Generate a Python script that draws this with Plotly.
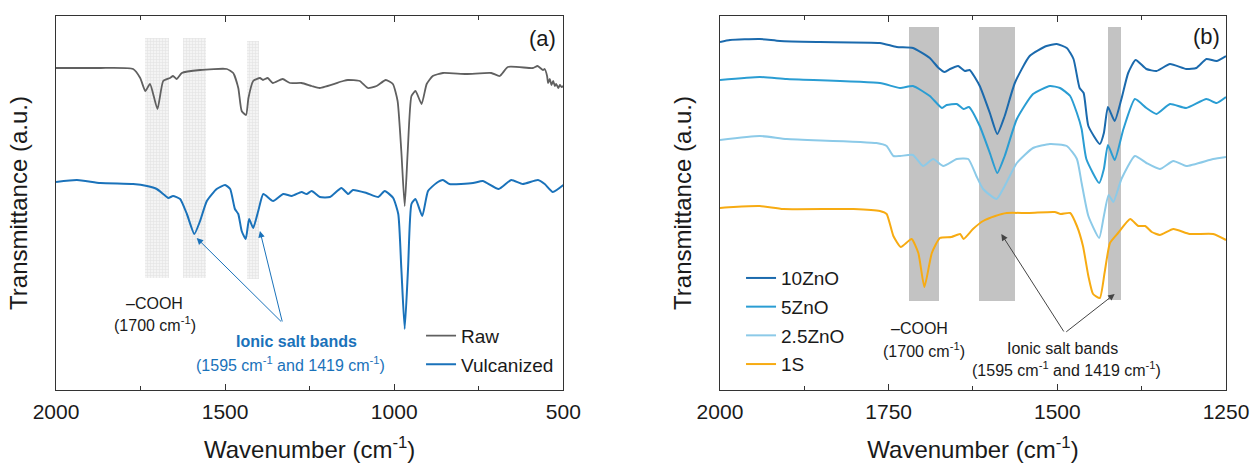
import plotly.graph_objects as go

# ---------------- Panel (a) data ----------------
raw_wn = [2000, 1938, 1870, 1772, 1751, 1736, 1722, 1700, 1683, 1663, 1654, 1643, 1628, 1574, 1495,
          1476, 1461, 1451, 1438, 1431, 1417, 1397, 1388, 1374, 1359, 1330, 1308, 1274, 1244, 1220,
          1151, 1137, 1102, 1078, 1052, 1025, 1004, 990, 979, 969, 960, 949, 937, 919, 904, 886,
          856, 787, 713, 688, 664, 590, 576, 560, 555, 548, 545, 540, 535, 530, 525, 521, 515, 510, 505, 500]
raw_t = [322, 322, 322, 321, 312, 299, 306, 281, 309, 312, 314, 311, 317, 320, 321,
         317, 302, 279, 275, 292, 309, 312, 310, 312, 307, 311, 307, 307, 304, 302,
         309, 310, 309, 302, 304, 310, 306, 289, 239, 184, 239, 294, 299, 286, 306, 314,
         317, 316, 317, 314, 323, 322, 324, 320, 321, 314, 307, 311, 305, 309, 304, 306, 302, 305, 303, 304]

vul_wn = [2000, 1938, 1869, 1772, 1731, 1702, 1683, 1668, 1654, 1633, 1613, 1591, 1574, 1554, 1525,
          1500, 1485, 1471, 1461, 1451, 1439, 1429, 1417, 1402, 1387, 1358, 1328, 1303, 1274, 1259,
          1244, 1220, 1190, 1156, 1136, 1122, 1082, 1047, 1028, 1003, 988, 979, 969, 959, 949, 937,
          917, 900, 875, 856, 837, 767, 738, 691, 654, 620, 575, 555, 531, 500]
vul_t = [208, 210, 207, 206, 204, 201, 196, 192, 194, 191, 176, 156, 169, 189, 201,
         205, 201, 181, 176, 159, 151, 171, 162, 179, 196, 189, 196, 194, 198, 196,
         199, 193, 193, 202, 196, 200, 197, 193, 199, 192, 176, 122, 61, 122, 186, 191,
         174, 199, 207, 210, 206, 207, 209, 201, 210, 206, 210, 206, 198, 205]

# shaded bands in (a): (high, low) wavenumber and vertical extent
bands_a_hi = [1736, 1625, 1436]
bands_a_lo = [1665, 1556, 1400]
bands_a_bottom = [112, 112, 111]
bands_a_top = [352, 352, 349]

# ---------------- Panel (b) data ----------------
zn10_wn = [2000, 1985, 1941, 1911, 1852, 1763, 1738, 1714, 1689, 1676, 1667, 1659, 1647, 1637, 1630,
           1615, 1600, 1589, 1578, 1563, 1541, 1516, 1501, 1486, 1476, 1467, 1461, 1454, 1437, 1431,
           1425, 1415, 1405, 1395, 1384, 1368, 1353, 1333, 1309, 1294, 1279, 1264, 1250]
zn10_t = [348, 350, 351, 349, 348, 347, 343, 342, 332, 322, 318, 321, 324, 319, 320,
          304, 277, 256, 274, 307, 334, 344, 346, 342, 331, 302, 297, 264, 246, 257,
          283, 269, 291, 317, 330, 321, 319, 326, 321, 322, 331, 329, 334]

zn5_wn = [2000, 1941, 1901, 1763, 1733, 1714, 1689, 1671, 1664, 1649, 1639, 1631, 1615, 1600, 1589,
          1578, 1560, 1536, 1511, 1496, 1481, 1471, 1464, 1457, 1438, 1431, 1425, 1415, 1402, 1385,
          1368, 1353, 1333, 1309, 1279, 1264, 1250]
zn5_t = [310, 313, 311, 307, 302, 304, 294, 282, 285, 286, 281, 283, 264, 237, 217,
         234, 271, 296, 304, 302, 294, 277, 261, 231, 207, 221, 245, 230, 261, 291,
         282, 276, 286, 282, 291, 287, 293]

zn25_wn = [2000, 1941, 1901, 1768, 1753, 1743, 1733, 1714, 1699, 1684, 1669, 1649, 1632, 1620, 1610,
           1590, 1578, 1560, 1536, 1511, 1486, 1471, 1464, 1454, 1438, 1431, 1424, 1417, 1405, 1385,
           1368, 1348, 1328, 1309, 1269, 1250]
zn25_t = [250, 254, 251, 247, 244, 234, 234, 235, 224, 231, 224, 231, 231, 214, 201,
          191, 204, 227, 242, 246, 244, 231, 207, 174, 152, 174, 195, 188, 211, 234,
          227, 221, 229, 224, 231, 233]

s1_wn = [2000, 1980, 1941, 1906, 1802, 1763, 1753, 1743, 1732, 1716, 1706, 1697, 1686, 1674, 1657,
         1644, 1639, 1625, 1610, 1592, 1575, 1541, 1504, 1495, 1481, 1471, 1462, 1454, 1447, 1437,
         1430, 1422, 1410, 1392, 1380, 1370, 1360, 1348, 1328, 1304, 1269, 1250]
s1_t = [182, 183, 184, 181, 181, 179, 176, 154, 143, 151, 137, 103, 137, 152, 153,
        156, 151, 161, 169, 174, 177, 177, 178, 176, 177, 164, 144, 114, 96, 92,
        117, 147, 157, 171, 164, 164, 158, 155, 161, 156, 156, 150]

bands_b_hi = [1720, 1616, 1425]
bands_b_lo = [1676, 1563, 1406]
bands_b_bottom = [89, 89, 90]
bands_b_top = [363, 363, 363]

x_ticks_a = [2000, 1500, 1000, 500]
x_minor_a = [1750, 1250, 750]
x_ticks_b = [2000, 1750, 1500, 1250]
x_minor_b = [1875, 1625, 1375]

FONT = "Arial, Liberation Sans, Helvetica, sans-serif"
C_RAW = "#606060"
C_VUL = "#1a72ba"
C_10 = "#1b6aad"
C_5 = "#2a9dd3"
C_25 = "#8ccae8"
C_1S = "#f7ab12"

fig = go.Figure()

# bands (a) - dotted/hatched
fig.add_trace(go.Bar(
    x=[(h + l) / 2 for h, l in zip(bands_a_hi, bands_a_lo)],
    y=[t - b for t, b in zip(bands_a_top, bands_a_bottom)],
    base=bands_a_bottom,
    width=[h - l for h, l in zip(bands_a_hi, bands_a_lo)],
    marker=dict(color="rgba(0,0,0,0)", line_width=0,
                pattern=dict(shape="+", fgcolor="#d2d2d2", bgcolor="#f4f4f4", size=3, solidity=0.35)),
    showlegend=False, hoverinfo="skip", xaxis="x", yaxis="y"))

fig.add_trace(go.Scatter(x=raw_wn, y=raw_t, mode="lines", name="Raw",
                         line=dict(color=C_RAW, width=1.8, shape="spline", smoothing=0.5),
                         xaxis="x", yaxis="y", legend="legend", legendgroup="raw"))
fig.add_trace(go.Scatter(x=vul_wn, y=vul_t, mode="lines", name="Vulcanized",
                         line=dict(color=C_VUL, width=2, shape="spline", smoothing=0.5),
                         xaxis="x", yaxis="y", legend="legend", legendgroup="vul"))

# bands (b) - solid gray
fig.add_trace(go.Bar(
    x=[(h + l) / 2 for h, l in zip(bands_b_hi, bands_b_lo)],
    y=[t - b for t, b in zip(bands_b_top, bands_b_bottom)],
    base=bands_b_bottom,
    width=[h - l for h, l in zip(bands_b_hi, bands_b_lo)],
    marker=dict(color="#c3c3c3", line_width=0),
    showlegend=False, hoverinfo="skip", xaxis="x2", yaxis="y2"))

for wn, t, nm, col, g in [(zn10_wn, zn10_t, "10ZnO", C_10, "g1"),
                          (zn5_wn, zn5_t, "5ZnO", C_5, "g2"),
                          (zn25_wn, zn25_t, "2.5ZnO", C_25, "g3"),
                          (s1_wn, s1_t, "1S", C_1S, "g4")]:
    fig.add_trace(go.Scatter(x=wn, y=t, mode="lines", name=nm,
                             line=dict(color=col, width=2, shape="spline", smoothing=0.5),
                             xaxis="x2", yaxis="y2", legend="legend2", legendgroup=g))

axis_common = dict(showline=True, linecolor="#333333", linewidth=1.3, mirror="ticks",
                   ticks="inside", ticklen=6, tickcolor="#333333", showgrid=False, zeroline=False,
                   tickfont=dict(family=FONT, size=21, color="#1a1a1a"), ticklabelstandoff=3,
                   title=dict(text="Wavenumber (cm<sup>-1</sup>)",
                              font=dict(family=FONT, size=24, color="#1a1a1a"), standoff=22),
                   automargin=False)
yaxis_common = dict(showline=True, linecolor="#333333", linewidth=1.3, mirror=True,
                    ticks="", showticklabels=False, showgrid=False, zeroline=False,
                    title=dict(text="Transmittance (a.u.)",
                               font=dict(family=FONT, size=24, color="#1a1a1a"), standoff=20),
                    automargin=False)

fig.update_layout(
    width=1250, height=463,
    margin=dict(l=56, r=24, t=16, b=73),
    paper_bgcolor="white", plot_bgcolor="white",
    font=dict(family=FONT, color="#1a1a1a"),
    barmode="overlay", bargap=0,
    xaxis=dict(axis_common, domain=[0, 0.4336], range=[2000, 500], tickvals=x_ticks_a,
               minor=dict(tickvals=x_minor_a, ticks="inside", ticklen=4, tickcolor="#333333"),
               anchor="y"),
    yaxis=dict(yaxis_common, domain=[0, 1], range=[0, 374], anchor="x"),
    xaxis2=dict(axis_common, domain=[0.5675, 1.0], range=[2000, 1250], tickvals=x_ticks_b,
                minor=dict(tickvals=x_minor_b, ticks="inside", ticklen=4, tickcolor="#333333"),
                anchor="y2"),
    yaxis2=dict(yaxis_common, domain=[0, 1], range=[0, 374], anchor="x2"),
    legend=dict(x=0.3120, y=0.196, xanchor="left", yanchor="top", bgcolor="rgba(0,0,0,0)",
                font=dict(family=FONT, size=19, color="#1a1a1a"), tracegroupgap=1,
                traceorder="grouped"),
    legend2=dict(x=0.5855, y=0.350, xanchor="left", yanchor="top", bgcolor="rgba(0,0,0,0)",
                 font=dict(family=FONT, size=19, color="#1a1a1a"), tracegroupgap=1,
                 traceorder="grouped"),
)

ann_font = dict(family=FONT, size=16, color="#1a1a1a")
blue_font = dict(family=FONT, size=16, color=C_VUL)
annots = [
    dict(x=561, y=352, xref="x", yref="y", text="(a)", font=dict(family=FONT, size=22, color="#1a1a1a")),
    dict(x=1710, y=87, xref="x", yref="y", text="\u2013COOH", font=ann_font),
    dict(x=1707, y=66, xref="x", yref="y", text="(1700 cm<sup>-1</sup>)", font=ann_font),
    dict(x=1288, y=49, xref="x", yref="y", text="<b>Ionic salt bands</b>", font=blue_font),
    dict(x=1308, y=26, xref="x", yref="y", text="(1595 cm<sup>-1</sup> and 1419 cm<sup>-1</sup>)", font=blue_font),
    dict(x=1279, y=354, xref="x2", yref="y2", text="(b)", font=dict(family=FONT, size=22, color="#1a1a1a")),
    dict(x=1705, y=62, xref="x2", yref="y2", text="\u2013COOH", font=ann_font),
    dict(x=1698, y=40, xref="x2", yref="y2", text="(1700 cm<sup>-1</sup>)", font=ann_font),
    dict(x=1492, y=42, xref="x2", yref="y2", text="Ionic salt bands", font=ann_font),
    dict(x=1487, y=21, xref="x2", yref="y2", text="(1595 cm<sup>-1</sup> and 1419 cm<sup>-1</sup>)", font=ann_font),
]
for a in annots:
    a.update(showarrow=False, xanchor="center", yanchor="middle")
    fig.add_annotation(**a)

# arrows
arrows = [
    dict(x=1584, y=152, ax=1330, ay=67, xref="x", yref="y", axref="x", ayref="y", arrowcolor=C_VUL),
    dict(x=1397, y=159, ax=1330, ay=67, xref="x", yref="y", axref="x", ayref="y", arrowcolor=C_VUL),
    dict(x=1583, y=156, ax=1489, ay=57, xref="x2", yref="y2", axref="x2", ayref="y2", arrowcolor="#444444"),
    dict(x=1415, y=96, ax=1489, ay=57, xref="x2", yref="y2", axref="x2", ayref="y2", arrowcolor="#444444"),
]
for a in arrows:
    a.update(text="", showarrow=True, arrowhead=2, arrowsize=1.3, arrowwidth=1,
             standoff=0, startstandoff=0)
    fig.add_annotation(**a)

fig.write_html("out.html")
